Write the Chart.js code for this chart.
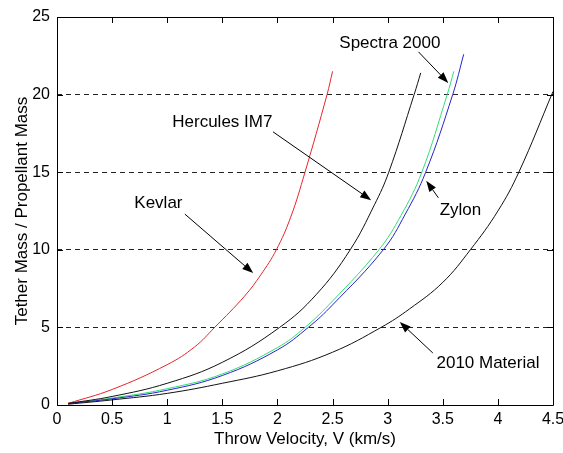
<!DOCTYPE html>
<html>
<head>
<meta charset="utf-8">
<script src="https://cdn.jsdelivr.net/npm/chart.js@4.4.0/dist/chart.umd.min.js"></script>
<style>
html, body { margin: 0; padding: 0; background: #fff; }
#cadre { width: 563px; height: 453px; }
</style>
</head>
<body>
<div id="cadre"><canvas id="monGraphique"></canvas></div>
<script>
// Valeurs : vitesse de lancement (km/s) -> masse câble / masse propergol
const vitesseKevlar = [0.1, 0.5, 1.0, 1.25, 1.43, 1.7, 1.85, 1.99, 2.12, 2.25, 2.45, 2.5];
const masseKevlar   = [0.1, 1.0, 2.6, 3.75, 5.0, 7.0, 8.4, 10.0, 12.1, 15.0, 20.0, 21.5];

const vitesseHercules = [0.1, 0.5, 1.0, 1.5, 2.02, 2.35, 2.66, 2.88, 3.01, 3.24, 3.3];
const masseHercules   = [0.1, 0.55, 1.4, 2.75, 5.0, 7.1, 10.0, 12.9, 15.0, 20.0, 21.4];

const vitesseSpectra = [0.1, 0.5, 1.0, 1.5, 2.0, 2.25, 2.5, 2.92, 3.12, 3.31, 3.54, 3.6];
const masseSpectra   = [0.1, 0.45, 1.05, 2.0, 3.7, 5.0, 6.7, 10.0, 12.2, 15.0, 20.0, 21.5];

const vitesseZylon = [0.1, 0.5, 1.0, 1.5, 2.0, 2.28, 2.5, 2.96, 3.16, 3.345, 3.59, 3.69];
const masseZylon   = [0.1, 0.4, 0.95, 1.9, 3.55, 5.0, 6.45, 10.0, 12.3, 15.0, 20.0, 22.6];

const vitesse2010 = [0.1, 0.5, 1.0, 1.5, 2.0, 2.5, 2.94, 3.2, 3.5, 3.75, 4.0, 4.19, 4.5];
const masse2010   = [0.05, 0.33, 0.75, 1.4, 2.2, 3.4, 5.0, 6.2, 7.9, 10.0, 12.5, 15.0, 20.2];

// Étiquettes et flèches (coordonnées dans le repère des données)
const etiquettes = [
    { texte: 'Spectra 2000', pos: [3.02, 23.3], de: [3.28, 22.75], vers: [3.55, 20.75] },
    { texte: 'Hercules IM7', pos: [1.5, 18.2], de: [1.96, 17.6], vers: [2.85, 13.2] },
    { texte: 'Kevlar', pos: [0.92, 13.0], de: [1.16, 12.3], vers: [1.78, 8.5] },
    { texte: 'Zylon', pos: [3.66, 12.55], de: [3.46, 13.35], vers: [3.35, 14.45] },
    { texte: '2010 Material', pos: [3.91, 2.7], de: [3.41, 3.35], vers: [3.11, 5.35] }
];

const police = "'Liberation Sans', Arial, sans-serif";

function points(xs, ys) {
    return xs.map((x, i) => ({ x: x, y: ys[i] }));
}

function courbe(nom, xs, ys, couleur) {
    return {
        label: nom,
        data: points(xs, ys),
        borderColor: couleur,
        borderWidth: 1,
        pointRadius: 0,
        showLine: true,
        fill: false,
        tension: 0.4
    };
}

// Cadre complet + graduations vers l'intérieur sur les 4 côtés
const cadre = {
    id: 'cadre',
    afterDraw(chart) {
        const { ctx, chartArea: a, scales } = chart;
        const L = 6;
        ctx.save();
        ctx.strokeStyle = '#000';
        ctx.lineWidth = 1;
        ctx.beginPath();
        ctx.rect(Math.round(a.left) + 0.5, Math.round(a.top) + 0.5,
                 Math.round(a.right - a.left), Math.round(a.bottom - a.top));
        scales.x.ticks.forEach(t => {
            const px = Math.round(scales.x.getPixelForValue(t.value)) + 0.5;
            ctx.moveTo(px, a.bottom); ctx.lineTo(px, a.bottom - L);
            ctx.moveTo(px, a.top); ctx.lineTo(px, a.top + L);
        });
        scales.y.ticks.forEach(t => {
            const py = Math.round(scales.y.getPixelForValue(t.value)) + 0.5;
            ctx.moveTo(a.left, py); ctx.lineTo(a.left + L, py);
            ctx.moveTo(a.right, py); ctx.lineTo(a.right - L, py);
        });
        ctx.stroke();
        ctx.restore();
    }
};

// Textes et flèches d'annotation
const annotations = {
    id: 'annotations',
    afterDatasetsDraw(chart) {
        const { ctx, scales } = chart;
        const X = v => scales.x.getPixelForValue(v);
        const Y = v => scales.y.getPixelForValue(v);
        ctx.save();
        ctx.fillStyle = '#000';
        ctx.strokeStyle = '#000';
        ctx.lineWidth = 1;
        ctx.font = '17px ' + police;
        ctx.textAlign = 'center';
        ctx.textBaseline = 'middle';
        etiquettes.forEach(e => {
            ctx.fillText(e.texte, X(e.pos[0]), Y(e.pos[1]));
            const x1 = X(e.de[0]), y1 = Y(e.de[1]);
            const x2 = X(e.vers[0]), y2 = Y(e.vers[1]);
            const ang = Math.atan2(y2 - y1, x2 - x1);
            const lg = 11, lq = 4;
            const bx = x2 - lg * Math.cos(ang), by = y2 - lg * Math.sin(ang);
            ctx.beginPath();
            ctx.moveTo(x1, y1);
            ctx.lineTo(bx, by);
            ctx.stroke();
            ctx.beginPath();
            ctx.moveTo(x2, y2);
            ctx.lineTo(bx + lq * Math.sin(ang), by - lq * Math.cos(ang));
            ctx.lineTo(bx - lq * Math.sin(ang), by + lq * Math.cos(ang));
            ctx.closePath();
            ctx.fill();
        });
        ctx.restore();
    }
};

const ctx = document.getElementById('monGraphique').getContext('2d');
new Chart(ctx, {
    type: 'scatter',
    data: {
        datasets: [
            courbe('2010 Material', vitesse2010, masse2010, '#111'),
            courbe('Hercules IM7', vitesseHercules, masseHercules, '#111'),
            courbe('Kevlar', vitesseKevlar, masseKevlar, '#e3262b'),
            courbe('Zylon', vitesseZylon, masseZylon, '#2424cc'),
            courbe('Spectra 2000', vitesseSpectra, masseSpectra, '#33dd77')
        ]
    },
    options: {
        responsive: true,
        maintainAspectRatio: false,
        animation: false,
        devicePixelRatio: 1,
        layout: { padding: { left: 0, top: 17, right: 10, bottom: 0 } },
        plugins: {
            legend: { display: false },
            tooltip: { enabled: false }
        },
        scales: {
            x: {
                type: 'linear',
                min: 0,
                max: 4.5,
                ticks: {
                    stepSize: 0.5, color: '#000', font: { family: police, size: 16 }, padding: 5, maxRotation: 0,
                    callback: v => String(Math.round(v * 10) / 10)
                },
                grid: { display: false, drawTicks: false },
                border: { display: false },
                title: { display: true, text: 'Throw Velocity, V (km/s)', color: '#000',
                         font: { family: police, size: 17 }, padding: { top: 0, bottom: 3 } },
                afterFit(s) { s.height = 48; s.paddingLeft = 0; s.paddingRight = 0; }
            },
            y: {
                min: 0,
                max: 25,
                ticks: { stepSize: 5, color: '#000', font: { family: police, size: 16 }, padding: 7 },
                grid: {
                    drawTicks: false,
                    lineWidth: 1,
                    color: c => (c.tick && (c.tick.value === 0 || c.tick.value === 25)) ? 'rgba(0,0,0,0)' : '#222'
                },
                border: { display: false, dash: [5, 4] },
                title: { display: true, text: 'Tether Mass / Propellant Mass', color: '#000',
                         font: { family: police, size: 17 }, padding: { top: 12, bottom: 0 } },
                afterFit(s) { s.width = 57; s.paddingTop = 0; s.paddingBottom = 0; }
            }
        }
    },
    plugins: [cadre, annotations]
});
</script>
</body>
</html>
